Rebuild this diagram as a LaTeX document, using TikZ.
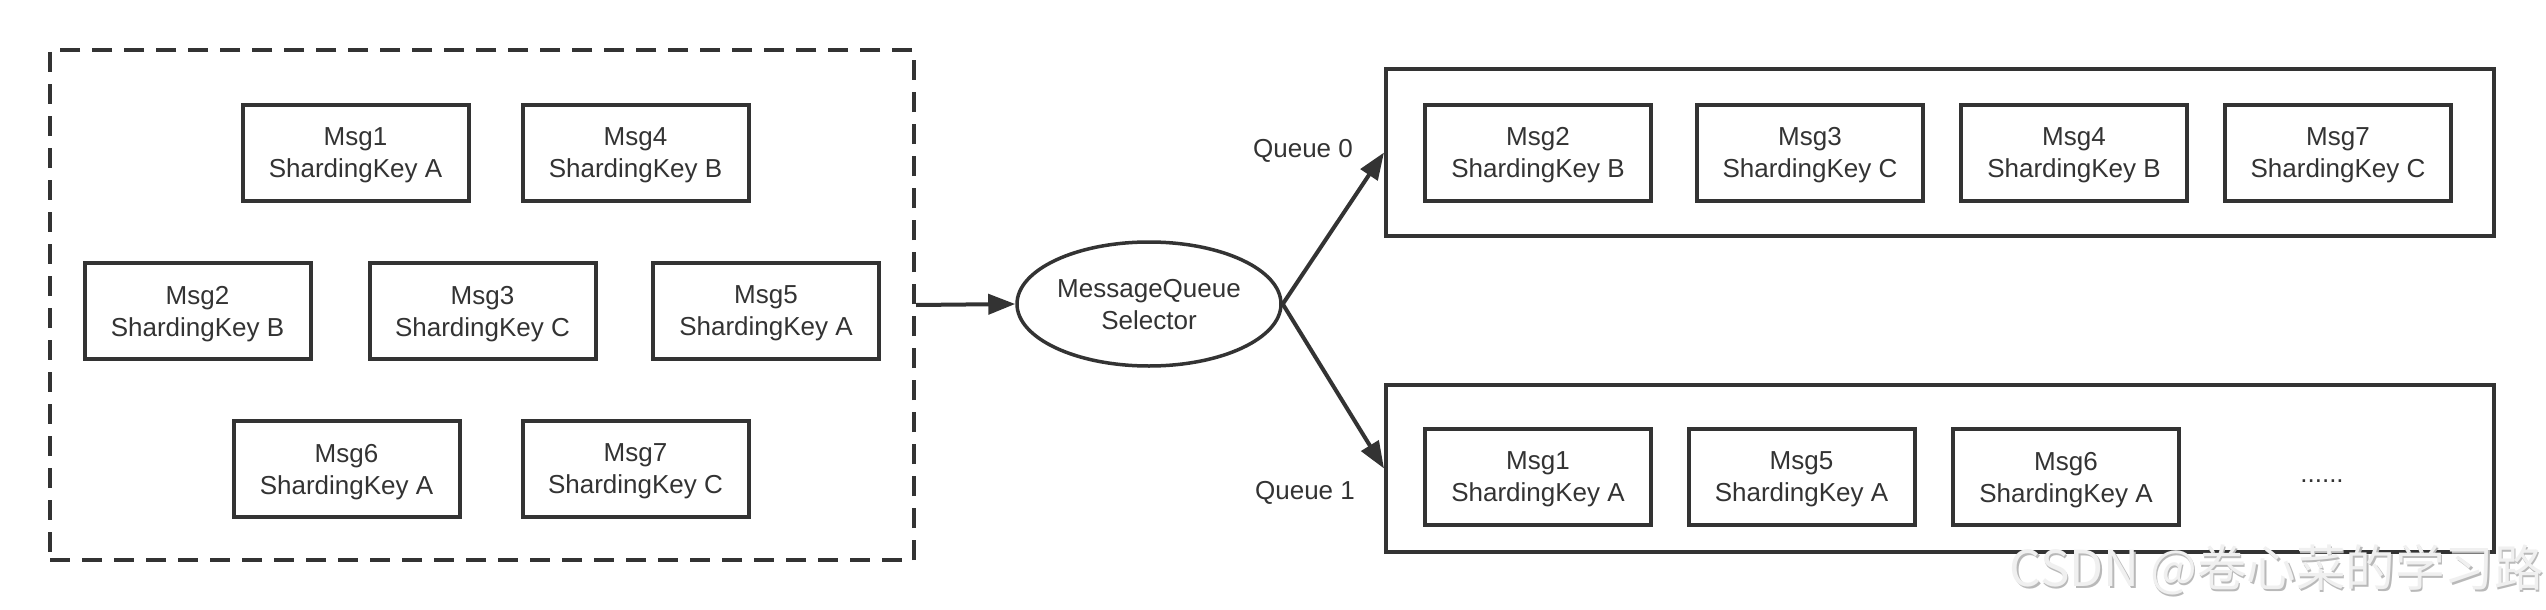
\documentclass[tikz,border=0pt]{standalone}
\usepackage{fontspec}
\setmainfont{Liberation Sans}
\newfontfamily\cjkfont{Noto Sans CJK SC}
\usetikzlibrary{arrows.meta,shapes.geometric}
\definecolor{ink}{HTML}{333333}
\begin{document}
\begin{tikzpicture}[x=1pt,y=-1pt,
  txt/.style={text=ink,font=\fontsize{26}{32}\selectfont,align=center,text depth=0pt},
  msgbox/.style={txt,draw=ink,line width=4pt,minimum width=226pt,minimum height=96pt,inner sep=0pt},
  qbox/.style={draw=ink,line width=4pt,minimum width=1108pt,minimum height=167pt,inner sep=0pt},
  srcbox/.style={draw=ink,line width=4pt,dash pattern=on 20pt off 12pt,minimum width=864pt,minimum height=510pt,inner sep=0pt},
  selnode/.style={txt,draw=ink,line width=3.5pt,ellipse,minimum width=264pt,minimum height=124pt,inner sep=0pt},
  arr/.style={draw=ink,line width=4pt,-{Triangle[length=27pt,width=20pt]}},
  wm/.style={font=\cjkfont\fontsize{49.5}{54}\selectfont,anchor=east,inner sep=0pt}]
\useasboundingbox (0,0) rectangle (2546,610);
\fill[white] (0,0) rectangle (2546,610);
% source
\node[srcbox] (src) at (482,305) {};
\node[msgbox] (a1) at (355.5,152.5) {Msg1\\ShardingKey A};
\node[msgbox] (a4) at (635.5,152.5) {Msg4\\ShardingKey B};
\node[msgbox] (a2) at (197.5,311) {Msg2\\ShardingKey B};
\node[msgbox] (a3) at (482.5,311) {Msg3\\ShardingKey C};
\node[msgbox] (a5) at (766,311) {Msg5\\ShardingKey A};
\node[msgbox] (a6) at (346.5,469) {Msg6\\ShardingKey A};
\node[msgbox] (a7) at (635.5,469) {Msg7\\ShardingKey C};
% selector
\node[selnode] (sel) at (1149,304) {MessageQueue\\Selector};
% queues
\node[qbox] (q0) at (1940,152.5) {};
\node[qbox] (q1) at (1940,468.5) {};
\node[txt] (l0) at (1303,148) {Queue 0};
\node[txt] (l1) at (1305,490) {Queue 1};
\node[msgbox] (b2) at (1538,152.5) {Msg2\\ShardingKey B};
\node[msgbox] (b3) at (1810,152.5) {Msg3\\ShardingKey C};
\node[msgbox] (b4) at (2074,152.5) {Msg4\\ShardingKey B};
\node[msgbox] (b7) at (2338,152.5) {Msg7\\ShardingKey C};
\node[msgbox] (c1) at (1538,477) {Msg1\\ShardingKey A};
\node[msgbox] (c5) at (1801.5,477) {Msg5\\ShardingKey A};
\node[msgbox] (c6) at (2066,477) {Msg6\\ShardingKey A};
\node[txt] (dots) at (2322,481) {......};
% connectors
\draw[arr] (src.east) -- (sel.west);
\draw[arr] (sel.east) -- (q0.west);
\draw[arr] (sel.east) -- (q1.west);
% watermark
\node[wm,text=gray!55] (wms) at (2545.5,571.5) {CSDN @卷心菜的学习路};
\node[wm,text=gray!12] (wmt) at (2544,570) {CSDN @卷心菜的学习路};
\end{tikzpicture}
\end{document}
